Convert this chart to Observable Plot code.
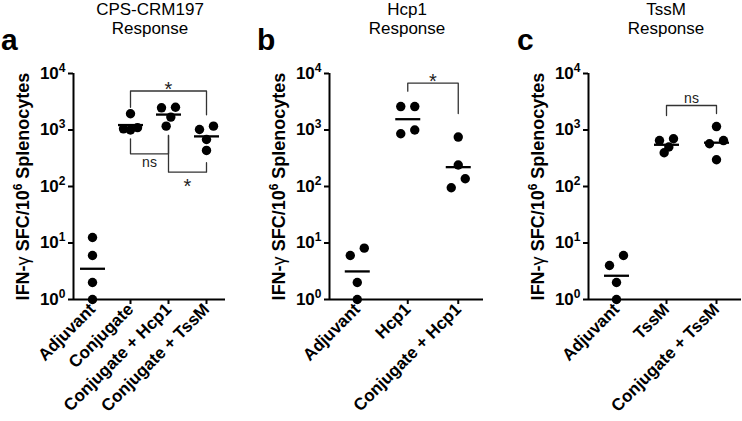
<!DOCTYPE html>
<html>
<head>
<meta charset="utf-8">
<script src="https://cdn.jsdelivr.net/npm/d3@7"></script>
<script src="https://cdn.jsdelivr.net/npm/@observablehq/plot@0.6"></script>
<style>
  body { margin: 0; background: #fff; }
  #chart { position: relative; width: 742px; height: 421px; overflow: hidden;
           font-family: "Liberation Sans", Arial, Helvetica, sans-serif; color: #000; }
  .panel { position: absolute; top: 0; }
  .title { position: absolute; top: 0px; width: 220px; text-align: center; font-size: 17px; line-height: 19px; }
  .letter { position: absolute; top: 25px; font-size: 30px; line-height: 30px; font-weight: bold; }
</style>
</head>
<body>
<div id="chart"></div>
<script>
// ---------------- data ----------------
const yTicks = [1, 10, 100, 1000, 10000];
const yLabel = "IFN-γ SFC/10⁶ Splenocytes";

const titles = [["CPS-CRM197", "Response"], ["Hcp1", "Response"], ["TssM", "Response"]];
const letters = ["a", "b", "c"];

// panel a
const catsA = ["Adjuvant", "Conjugate", "Conjugate + Hcp1", "Conjugate + TssM"];
const valuesA = [
  [12.5, 6, 2, 1],
  [1940, 1100, 1050, 1000],
  [2530, 2470, 1690, 1170],
  [1170, 1020, 680, 435]
];
// brackets: [from, to, level, end of "from" leg, end of "to" leg]
const bracketsA = [
  ["Conjugate", "Conjugate + TssM", 4900, 2520, 1860],
  ["Conjugate", "Conjugate + Hcp1", 379, 699, 800],
  ["Conjugate + Hcp1", "Conjugate + TssM", 179, 800, 263]
];
// significance labels: [text, from, to, value]
const sigA = [
  ["*", "Conjugate", "Conjugate + TssM", 6310],
  ["ns", "Conjugate", "Conjugate + Hcp1", 263],
  ["*", "Conjugate + Hcp1", "Conjugate + TssM", 123]
];

// panel b
const catsB = ["Adjuvant", "Hcp1", "Conjugate + Hcp1"];
const valuesB = [
  [8.1, 6, 2, 1],
  [2600, 2600, 1000, 860],
  [750, 240, 137, 95]
];
const bracketsB = [["Hcp1", "Conjugate + Hcp1", 6730, 4860, 1960]];
const sigB = [["*", "Hcp1", "Conjugate + Hcp1", 8850]];

// panel c
const catsC = ["Adjuvant", "TssM", "Conjugate + TssM"];
const valuesC = [
  [6, 4, 2, 1],
  [700, 650, 500, 395],
  [1150, 650, 570, 297]
];
const bracketsC = [["TssM", "Conjugate + TssM", 2715, 1806, 1960]];
const sigC = [["ns", "TssM", "Conjugate + TssM", 3610]];

// ---------------- layout ----------------
const FONT = '"Liberation Sans", Arial, Helvetica, sans-serif';
const H = 421, TOP = 73, AXIS_Y = 299;
const R = 4.7, SPREAD = 7;
const pxPerDecade = (AXIS_Y - TOP) / 4;

const panels = [
  {cats: catsA, values: valuesA, brackets: bracketsA, sig: sigA, left: 0, width: 240, ml: 73, mr: 15, xDomain: [-0.5, 3.5], titleX: 150, letterX: 1},
  {cats: catsB, values: valuesB, brackets: bracketsB, sig: sigB, left: 250, width: 245, ml: 79, mr: 12, xDomain: [-0.55, 2.5], titleX: 407, letterX: 257},
  {cats: catsC, values: valuesC, brackets: bracketsC, sig: sigC, left: 505, width: 237, ml: 83, mr: 1, xDomain: [-0.56, 2.5], titleX: 666, letterX: 517}
];

// simple scatter-dot dodge: overlapping neighbours are spread sideways
function dodgeOffsets(vals) {
  const idx = d3.range(vals.length).sort((a, b) => vals[b] - vals[a]);
  const off = new Array(vals.length).fill(0);
  let cl = [];
  const flush = () => {
    const n = cl.length;
    if (n > 1) {
      const slots = d3.range(n).map(k => -SPREAD + 2 * SPREAD * k / (n - 1));
      let lo = 0, hi = n - 1;
      cl.forEach((j, m) => { off[j] = m % 2 === 0 ? slots[hi--] : slots[lo++]; });
    }
    cl = [];
  };
  idx.forEach(j => {
    if (cl.length) {
      const prev = cl[cl.length - 1];
      const d = (Math.log10(vals[prev]) - Math.log10(vals[j])) * pxPerDecade;
      if (d >= 2 * R + 1) flush();
    }
    cl.push(j);
  });
  flush();
  return off;
}

const hline = {
  draw(ctx, size) {
    const r = Math.sqrt(size / Math.PI);
    ctx.moveTo(-r, 0);
    ctx.lineTo(r, 0);
  }
};

const NS = "http://www.w3.org/2000/svg";
function tspan(txt, attrs) {
  const s = document.createElementNS(NS, "tspan");
  s.textContent = txt;
  for (const k in attrs) s.setAttribute(k, attrs[k]);
  return s;
}

const chart = document.getElementById("chart");

panels.forEach((p, pi) => {
  const n = p.cats.length;
  const pos = c => p.cats.indexOf(c);
  const pts = [], means = [];
  p.values.forEach((vals, gi) => {
    const off = dodgeOffsets(vals);
    vals.forEach((v, k) => pts.push({x: gi, y: v, off: off[k]}));
    means.push({x: gi, y: 10 ** d3.mean(vals, v => Math.log10(v))});
  });
  const byOff = d3.groups(pts, d => d.off);
  const bracketRows = p.brackets.flatMap((b, bi) => [
    {id: bi, x: pos(b[0]), y: b[3]},
    {id: bi, x: pos(b[0]), y: b[2]},
    {id: bi, x: pos(b[1]), y: b[2]},
    {id: bi, x: pos(b[1]), y: b[4]}
  ]);
  const sigRows = p.sig.map(s => ({text: s[0], x: (pos(s[1]) + pos(s[2])) / 2, y: s[3]}));

  const svg = Plot.plot({
    width: p.width,
    height: H,
    marginTop: TOP,
    marginBottom: H - AXIS_Y,
    marginLeft: p.ml,
    marginRight: p.mr,
    x: {type: "linear", domain: p.xDomain, axis: null},
    y: {type: "log", domain: [1, 10000], axis: null},
    style: {fontFamily: FONT, color: "black", background: "transparent", overflow: "visible"},
    marks: [
      Plot.axisY(yTicks, {
        tickSize: 5, tickPadding: 3, strokeWidth: 2, fontSize: 17, fontWeight: "bold",
        tickFormat: v => "10^" + Math.round(Math.log10(v)), label: null
      }),
      Plot.axisX(d3.range(n), {
        tickSize: 5, tickPadding: 2, strokeWidth: 2, fontSize: 17, fontWeight: "bold",
        tickRotate: -45, tickFormat: i => p.cats[i], label: null
      }),
      Plot.ruleY([1], {strokeWidth: 2}),
      Plot.ruleX([p.xDomain[0]], {strokeWidth: 2}),
      Plot.line(bracketRows, {x: "x", y: "y", z: "id", stroke: "#333", strokeWidth: 1.3, curve: "linear"}),
      Plot.text(sigRows.filter(d => d.text === "*"), {x: "x", y: "y", text: "text", fontSize: 20, dy: 5, fill: "#222"}),
      Plot.text(sigRows.filter(d => d.text !== "*"), {x: "x", y: "y", text: "text", fontSize: 14, fill: "#222"}),
      ...byOff.map(([off, rows]) => Plot.dot(rows, {x: "x", y: "y", dx: off, r: R, fill: "black", stroke: "none"})),
      Plot.dot(means, {x: "x", y: "y", symbol: hline, r: 12.5, fill: "none", stroke: "black", strokeWidth: 2.3}),
      Plot.text([yLabel], {
        text: d => d, frameAnchor: "left", rotate: -90, dx: -45,
        textAnchor: "middle", lineAnchor: "bottom", fontSize: 18, fontWeight: "bold"
      })
    ]
  });

  // superscripts as real text
  svg.querySelectorAll("text").forEach(t => {
    const m = /^10\^(\d)$/.exec(t.textContent);
    if (m) {
      t.textContent = "10";
      t.appendChild(tspan(m[1], {dy: "-7", "font-size": "12"}));
    } else if (t.textContent === yLabel) {
      t.textContent = "IFN-";
      t.appendChild(tspan("γ", {"font-weight": "normal"}));
      t.appendChild(document.createTextNode(" SFC/10"));
      t.appendChild(tspan("6", {dy: "-7", "font-size": "12"}));
      t.appendChild(tspan(" Splenocytes", {dy: "7"}));
    }
  });

  const wrap = document.createElement("div");
  wrap.className = "panel";
  wrap.style.left = p.left + "px";
  wrap.appendChild(svg);
  chart.appendChild(wrap);

  const title = document.createElement("div");
  title.className = "title";
  title.style.left = (p.titleX - 110) + "px";
  title.innerHTML = titles[pi][0] + "<br>" + titles[pi][1];
  chart.appendChild(title);

  const letter = document.createElement("div");
  letter.className = "letter";
  letter.style.left = p.letterX + "px";
  letter.textContent = letters[pi];
  chart.appendChild(letter);
});
</script>
</body>
</html>
